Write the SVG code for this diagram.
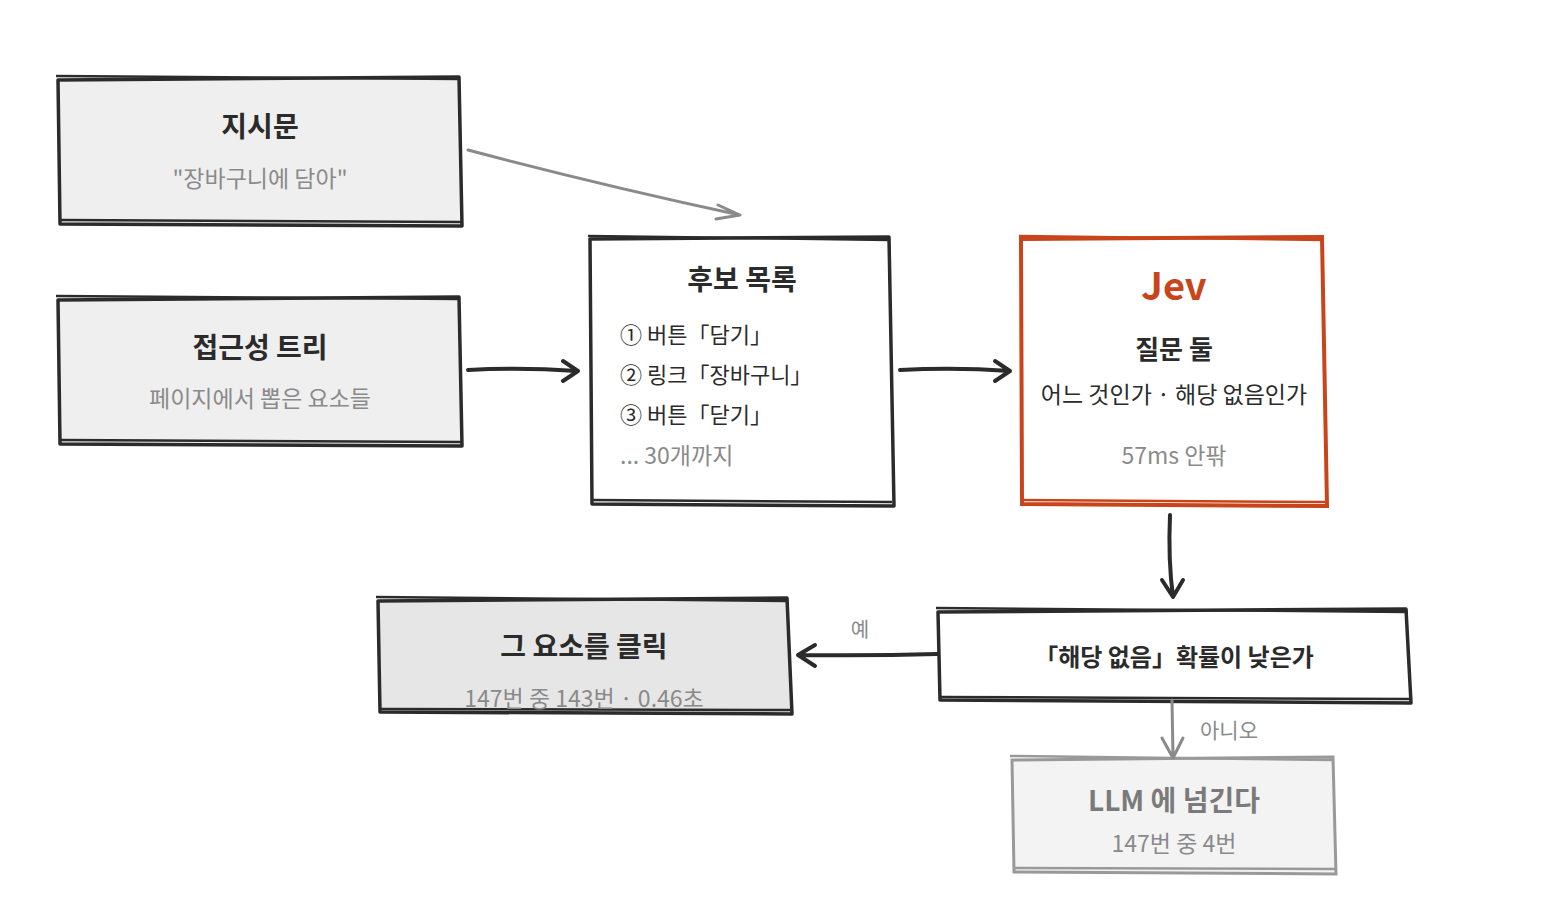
<svg xmlns="http://www.w3.org/2000/svg" width="1560" height="920" viewBox="0 0 1560 920">
<defs>
<style>
text{font-family:"Noto Sans CJK KR","Noto Sans",sans-serif;text-anchor:middle}
.t{font-size:28px;font-weight:700;fill:#2b2b2b}
.s{font-size:23px;fill:#8a8a8a}
.b{font-size:22px;fill:#2b2b2b}
.box{stroke:#2b2b2b;stroke-width:3.5;stroke-linejoin:round}
.box2{fill:none;stroke:#2b2b2b;stroke-width:2.5}
.c{fill:none;stroke:#2b2b2b;stroke-width:4;stroke-linecap:round;stroke-linejoin:round}
.g{fill:none;stroke:#8a8a8a;stroke-width:3;stroke-linecap:round;stroke-linejoin:round}
</style>
</defs>
<rect width="1560" height="920" fill="#fff"/>
<g id="n-instr">
<path class="box" fill="#efefef" d="M58 80 L459 77 L462 226 L60 224 Z"/>
<path class="box2" d="M56 76 L460 79 M60 220 L463 222"/>
<text class="t" x="260" y="137">지시문</text>
<text class="s" x="260" y="187">"장바구니에 담아"</text>
</g>
<g id="n-tree">
<path class="box" fill="#efefef" d="M58 300 L459 297 L462 446 L60 444 Z"/>
<path class="box2" d="M56 296 L460 299 M60 440 L463 442"/>
<text class="t" x="260" y="358">접근성 트리</text>
<text class="s" x="260" y="407">페이지에서 뽑은 요소들</text>
</g>
<g id="n-cand">
<path class="box" fill="#fff" d="M590 239 L889 237 L894 506 L592 504 Z"/>
<path class="box2" d="M588 236 L890 240 M592 500 L892 502"/>
<text class="t" x="742" y="290">후보 목록</text>
<text class="b" x="620" y="343" style="text-anchor:start">① 버튼「담기」</text>
<text class="b" x="620" y="383" style="text-anchor:start">② 링크「장바구니」</text>
<text class="b" x="620" y="423" style="text-anchor:start">③ 버튼「닫기」</text>
<text class="s" x="620" y="464" style="text-anchor:start">... 30개까지</text>
</g>
<g id="n-jev">
<path fill="#fff" stroke="#c8441a" stroke-width="4" d="M1021 239 L1322 237 L1327 506 L1022 504 Z"/>
<path fill="none" stroke="#c8441a" stroke-width="2.5" d="M1019 236 L1323 240 M1022 500 L1325 502"/>
<text x="1174" y="300" style="font-size:38px;font-weight:700;fill:#c8441a">Jev</text>
<text class="t" x="1174" y="359" style="font-size:26px">질문 둘</text>
<text class="b" x="1174" y="403" style="font-size:23px">어느 것인가 · 해당 없음인가</text>
<text class="s" x="1174" y="464">57ms 안팎</text>
</g>
<g id="n-q">
<path class="box" fill="#fff" d="M938 612 L1406 609 L1411 703 L940 700 Z"/>
<path class="box2" d="M936 608 L1408 612 M940 697 L1410 699"/>
<text class="b" x="1174" y="666" style="font-weight:700;font-size:24px">「해당 없음」확률이 낮은가</text>
</g>
<g id="n-click">
<path class="box" fill="#e6e6e6" d="M378 601 L787 598 L792 714 L380 712 Z"/>
<path class="box2" d="M376 597 L788 601 M380 709 L790 710"/>
<text class="t" x="584" y="657">그 요소를 클릭</text>
<text class="s" x="584" y="707">147번 중 143번 · 0.46초</text>
</g>
<g id="n-llm">
<path fill="#f3f3f3" stroke="#999" stroke-width="3" d="M1012 760 L1333 757 L1336 874 L1014 872 Z"/>
<path fill="none" stroke="#999" stroke-width="2.5" d="M1010 756 L1334 760 M1014 868 L1336 869"/>
<text class="t" x="1174" y="811" style="fill:#7a7a7a">LLM 에 넘긴다</text>
<text class="s" x="1174" y="852">147번 중 4번</text>
</g>
<g id="connectors">
<path class="g" d="M468 150 Q600 185 740 215 M718 205 L740 215 L716 219"/>
<path class="c" d="M468 370 Q520 367 577 371 M563 361 L578 371 L563 381"/>
<path class="c" d="M900 370 Q955 367 1010 371 M995 361 L1010 371 L995 381"/>
<path class="c" d="M1170 515 Q1168 560 1173 597 M1162 580 L1173 597 L1183 580"/>
<path class="c" d="M937 654 Q870 656 798 655 M815 645 L798 655 L815 666"/>
<text class="s" x="860" y="637" style="font-size:20px">예</text>
<path class="g" d="M1172 700 L1173 758 M1162 738 L1173 758 L1183 738"/>
<text class="s" x="1229" y="738" style="font-size:21px">아니오</text>
</g>
</svg>
